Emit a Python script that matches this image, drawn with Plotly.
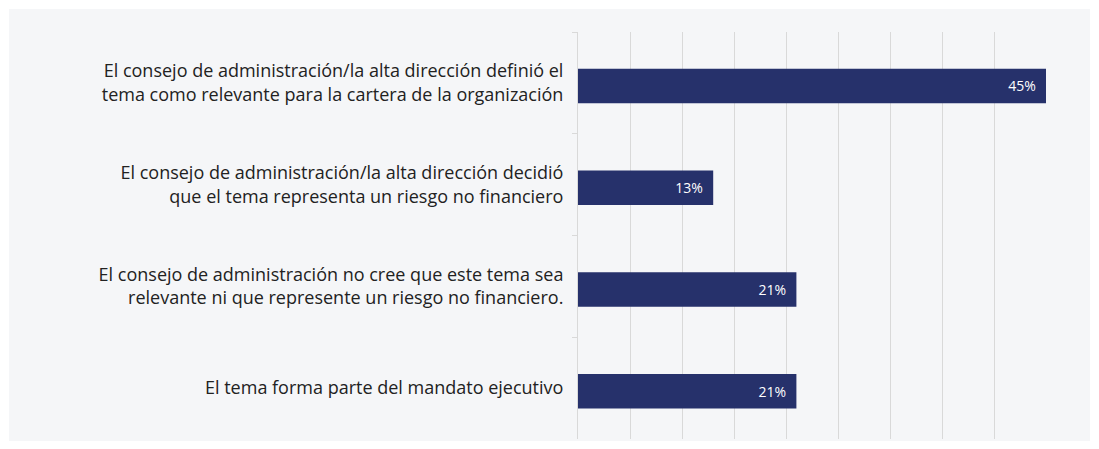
import plotly.graph_objects as go

categories = [
    "El consejo de administración/la alta dirección definió el<br>tema como relevante para la cartera de la organización",
    "El consejo de administración/la alta dirección decidió<br>que el tema representa un riesgo no financiero",
    "El consejo de administración no cree que este tema sea<br>relevante ni que represente un riesgo no financiero.",
    "El tema forma parte del mandato ejecutivo",
]
values = [45, 13, 21, 21]
labels = ["45%", "13%", "21%", "21%"]

W, H = 1099, 449
L, R, T, B = 578, 53, 32, 10
pw = W - L - R
ph = H - T - B

fig = go.Figure(go.Bar(
    x=values, y=categories, orientation="h",
    marker=dict(color="#26316b", line=dict(width=0)),
    width=0.34, offset=-0.14,
    text=[s + "\u00a0\u00a0" for s in labels], textposition="inside", insidetextanchor="end",
    textfont=dict(color="white", size=14, family="Open Sans"),
    hoverinfo="skip",
))

fig.add_shape(type="rect", xref="paper", yref="paper", layer="below",
              x0=(9 - L) / pw, x1=(1090 - L) / pw,
              y0=-(441 - (H - B)) / ph, y1=1 + (T - 9) / ph,
              fillcolor="#f5f6f8", line=dict(width=0))

fig.update_layout(
    width=W, height=H,
    margin=dict(l=L, r=R, t=T, b=B),
    paper_bgcolor="white", plot_bgcolor="rgba(0,0,0,0)",
    showlegend=False,
    font=dict(family="Open Sans", size=18, color="#222222"),
    xaxis=dict(range=[0, 45], dtick=5, showticklabels=False, showgrid=True,
               gridcolor="#d9d9d9", gridwidth=1, zeroline=False, fixedrange=True),
    yaxis=dict(autorange="reversed", showline=True, linecolor="#d9d9d9", linewidth=1,
               ticks="outside", tickson="boundaries", ticklen=5, tickcolor="#d9d9d9",
               ticklabelstandoff=10, showgrid=False, fixedrange=True,
               tickfont=dict(family="Open Sans", size=18, color="#222222")),
)

fig.write_html("out.html", config={"displayModeBar": False},
               post_script="document.body.style.margin='0';")
